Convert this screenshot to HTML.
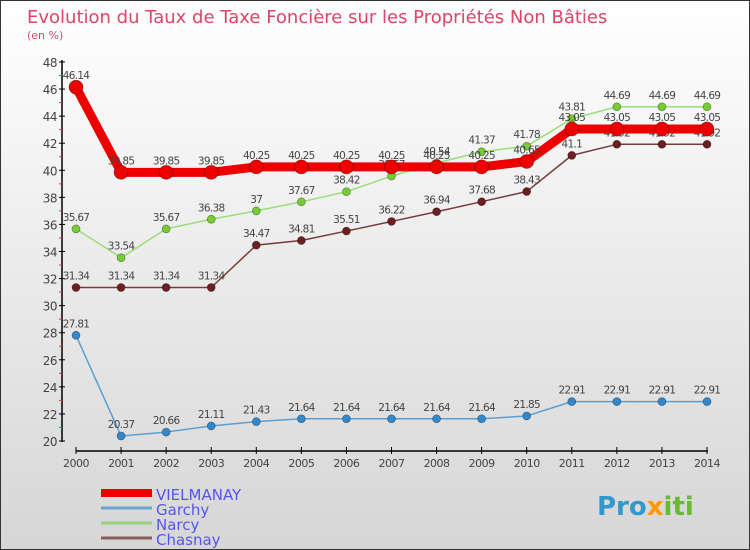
<!DOCTYPE html>
<html><head><meta charset="utf-8"><style>
body{margin:0}
#c{width:750px;height:550px;position:relative;background:linear-gradient(#ffffff,#d6d6d6);box-sizing:border-box;border:1px solid #333;font-family:"DejaVu Sans","Liberation Sans",sans-serif;overflow:hidden}
</style></head><body>
<div id="c">
<svg id="s" width="750" height="550" style="position:absolute;left:0;top:0">
<text x="26" y="22" font-size="18" fill="#dd4466">Evolution du Taux de Taxe Foncière sur les Propriétés Non Bâties</text>
<text x="26" y="38" font-size="11" fill="#dd4466">(en %)</text>
<text x="596" y="514" font-size="26" font-weight="bold" fill="#3399cc">Pro<tspan fill="#ff9900">x</tspan><tspan fill="#66bb33">iti</tspan></text>
</svg>
</div>
<script>
const years=[2000,2001,2002,2003,2004,2005,2006,2007,2008,2009,2010,2011,2012,2013,2014];
const yTicks=[20,22,24,26,28,30,32,34,36,38,40,42,44,46,48];
const vielmanay=[46.14,39.85,39.85,39.85,40.25,40.25,40.25,40.25,40.25,40.25,40.65,43.05,43.05,43.05,43.05];
const garchy=[27.81,20.37,20.66,21.11,21.43,21.64,21.64,21.64,21.64,21.64,21.85,22.91,22.91,22.91,22.91];
const narcy=[35.67,33.54,35.67,36.38,37,37.67,38.42,39.57,40.54,41.37,41.78,43.81,44.69,44.69,44.69];
const chasnay=[31.34,31.34,31.34,31.34,34.47,34.81,35.51,36.22,36.94,37.68,38.43,41.1,41.92,41.92,41.92];
const seriesNames=["VIELMANAY","Garchy","Narcy","Chasnay"];
const NS="http://www.w3.org/2000/svg";
const svg=document.getElementById('s');
const X=i=>75+i*(706-75)/(years.length-1);
const Y=v=>440-(v-20)*(440-61)/28;
function mk(t,a,p){const e=document.createElementNS(NS,t);for(const k in a)e.setAttribute(k,a[k]);(p||svg).appendChild(e);return e;}
let e;
e=mk('line',{x1:61,y1:59,x2:61,y2:441,stroke:'#000','stroke-width':1.5});


e=mk('line',{x1:75,y1:450,x2:707,y2:450,stroke:'#000','stroke-width':1.5});


yTicks.forEach(v=>{
 mk('line',{x1:58,x2:64,y1:Y(v),y2:Y(v),stroke:'#000'});
 if(v<48){mk('line',{x1:58,x2:61,y1:Y(v+1),y2:Y(v+1),stroke:'#e33'});}
 e=mk('text',{x:56,y:Y(v)+5,'font-size':12,fill:'#444','text-anchor':'end','letter-spacing':'-0.5'});
 e.textContent=v;
 
 
});
years.forEach((y,i)=>{
 mk('line',{x1:X(i),x2:X(i),y1:446,y2:453,stroke:'#000'});
 e=mk('text',{x:X(i),y:466,'font-size':11,fill:'#444','text-anchor':'middle','letter-spacing':'-0.5'});
 e.textContent=y;
 
 
});
function draw(data,name,color,dot,w,r){
 const g=mk('g',{});
 
 
 mk('polyline',{points:data.map((v,i)=>X(i)+','+Y(v)).join(' '),fill:'none',stroke:color,'stroke-width':w,'stroke-linejoin':'round'},g);
 data.forEach((v,i)=>{
  const c=mk('circle',{cx:X(i),cy:Y(v),r:r,fill:dot,stroke:'rgba(0,0,0,0.4)','stroke-width':0.7},g);
  
  
  const t=mk('text',{x:X(i),y:Y(v)-8,'font-size':10.5,fill:'#444','text-anchor':'middle','letter-spacing':'-0.7'},g);
  t.textContent=String(v);
  
  
 });
}
draw(garchy,'garchy','#5a9fd4','#3388cc',1.5,4);
draw(chasnay,'chasnay','#7a3a3a','#6b1f1f',1.5,4);
draw(narcy,'narcy','#99dd77','#77cc33',1.5,4);
draw(vielmanay,'vielmanay','#ee0000','#ee0000',9,7);
const lc=['#ee0000','#6aa3cc','#99d07a','#8a5e5e'];
const lw=[8,3,3,3];
seriesNames.forEach((n,i)=>{
 const y=492+i*15;
 e=mk('line',{x1:100,x2:151,y1:y,y2:y,stroke:lc[i],'stroke-width':lw[i]});
 
 
 e=mk('text',{x:155,y:y+7,'font-size':15,fill:'#5555ee'});
 e.textContent=n;
 
 
});
</script>
</body></html>
